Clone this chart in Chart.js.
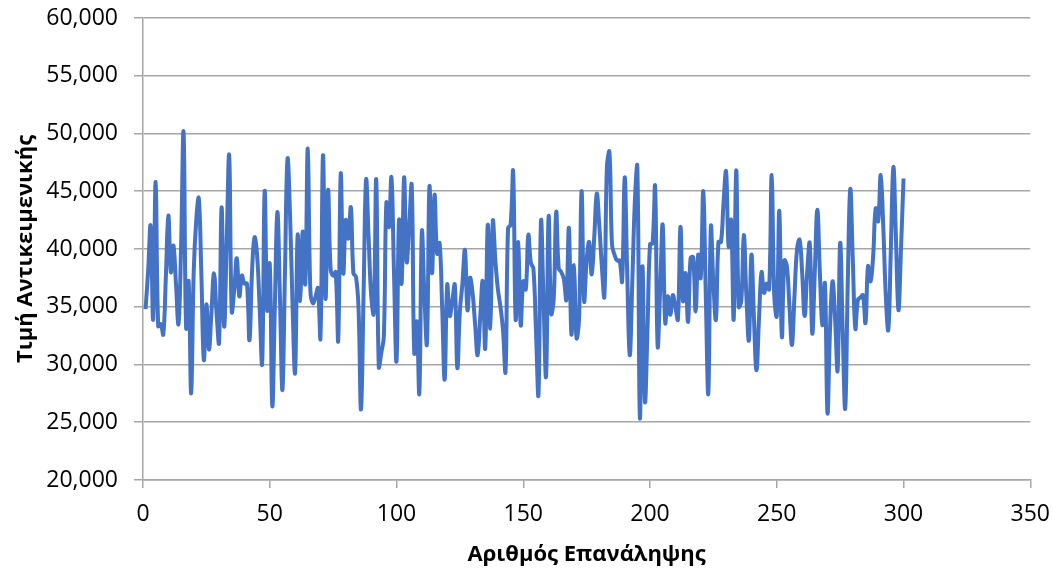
<!DOCTYPE html>
<html>
<head>
<meta charset="utf-8">
<script src="https://cdn.jsdelivr.net/npm/chart.js@4/dist/chart.umd.min.js"></script>
<style>
  html, body { margin: 0; padding: 0; background: #ffffff; }
  #wrap { width: 1053px; height: 572px; }
</style>
</head>
<body>
<div id="wrap"><canvas id="c" width="1053" height="572"></canvas></div>
<script>
// Objective value recorded at each iteration (iterations 1..300)
const objectiveValues = [
  34800, 38000, 42000, 33900, 45800, 33300, 33500, 32600, 37500, 42900,
  38000, 40300, 37000, 33500, 40000, 50100, 33200, 37200, 27500, 38000,
  42500, 44400, 38000, 30400, 35200, 31300, 34500, 37900, 34500, 31900,
  43600, 33300, 40500, 48100, 34600, 36500, 39200, 35900, 37700, 37000,
  37000, 32100, 38000, 41000, 39500, 35000, 30100, 45000, 34700, 38700,
  26400, 35000, 43200, 36000, 27800, 38000, 47800, 43000, 35000, 29300,
  41200, 35500, 41500, 37000, 48700, 36500, 35300, 35800, 36600, 32300,
  48100, 35700, 45100, 38300, 37700, 38000, 32100, 46500, 37900, 42500,
  40900, 43600, 37900, 37600, 35000, 26100, 36000, 46000, 41000, 36000,
  34400, 46000, 29800, 31000, 32400, 44000, 41900, 46200, 38000, 30300,
  42500, 37000, 46200, 38900, 42000, 45500, 31000, 33700, 27500, 41500,
  36000, 31800, 45400, 37900, 44700, 39600, 40500, 35000, 28700, 36900,
  34200, 35500, 36900, 29700, 34600, 37000, 39900, 34700, 37500, 36200,
  33500, 30800, 34000, 37200, 31400, 42100, 33100, 42400, 39000, 36500,
  35000, 33000, 29400, 41800, 42100, 46700, 33900, 40600, 33400, 37200,
  36500, 41200, 38800, 38300, 33000, 27400, 42400, 35500, 29000, 42800,
  34400, 35600, 43200, 38300, 38000, 37400, 35600, 41800, 32600, 38600,
  32300, 33900, 45000, 35500, 39000, 40600, 37800, 41000, 44800, 42000,
  38500, 35900, 47100, 48400, 40400, 39500, 39000, 39000, 37200, 46200,
  38000, 30800, 37000, 44000, 47100, 25400, 38500, 26800, 33000, 40400,
  40500, 45400, 31600, 36500, 42100, 33600, 35900, 34300, 36000, 35000,
  33900, 41900, 35500, 37900, 33700, 39200, 39300, 34600, 39500, 37500,
  45000, 36000, 27500, 41900, 37000, 33900, 40600, 40600, 44000, 46700,
  40200, 42500, 33900, 46800, 35000, 35500, 41200, 36000, 32100, 39500,
  34000, 29500, 34000, 38000, 36200, 37000, 36500, 46400, 36000, 34200,
  43300, 32400, 39000, 38500, 35000, 31700, 36000, 40000, 40800, 38000,
  34200, 38000, 40500, 32700, 38000, 43400, 38000, 33400, 37000, 25800,
  33000, 37200, 34000, 29500, 40500, 33000, 26200, 37000, 45200, 39000,
  33100, 35600, 35800, 36000, 33600, 38500, 37200, 39300, 43500, 42400,
  46400, 42000, 36000, 33000, 40000, 47100, 41000, 34700, 40000, 46100
];

// Iteration numbers that go with each value
const iterations = objectiveValues.map((_, i) => i + 1);

// Axis ranges and tick steps
const xRange = [0, 350];
const xStep = 50;
const yRange = [20000, 60000];
const yStep = 5000;

const xTitle = 'Αριθμός Επανάληψης';
const yTitle = 'Τιμή Αντικειμενικής';

const points = iterations.map((x, i) => ({ x: x, y: objectiveValues[i] }));

const axisGray = '#a6a6a6';
// Tick fonts: the line heights only steer how Chart.js reserves room around the labels
const xTickFont = { family: 'Open Sans', size: 23, lineHeight: 2.0 };
const yTickFont = { family: 'Open Sans', size: 23, lineHeight: 0.17 };
const titleFont = { family: 'Open Sans', size: 22, weight: 'bold' };

new Chart(document.getElementById('c'), {
  type: 'line',
  data: {
    datasets: [{
      data: points,
      borderColor: '#4472c4',
      borderWidth: 4,
      pointRadius: 0,
      pointHoverRadius: 0,
      tension: 0.4,
      fill: false
    }]
  },
  options: {
    responsive: false,
    animation: false,
    events: [],
    layout: { padding: { top: 0, right: 0, left: 0, bottom: 0 } },
    plugins: { legend: { display: false }, tooltip: { enabled: false } },
    scales: {
      x: {
        type: 'linear',
        min: xRange[0],
        max: xRange[1],
        ticks: {
          stepSize: xStep,
          color: '#000000',
          font: xTickFont,
          padding: 3,
          maxRotation: 0
        },
        grid: {
          drawOnChartArea: false,
          drawTicks: true,
          tickLength: 8,
          color: axisGray,
          lineWidth: 1.5
        },
        border: { color: axisGray, width: 1.5 },
        title: {
          display: true,
          text: xTitle,
          color: '#000000',
          font: titleFont,
          padding: { top: 6, bottom: 4 }
        },
        afterFit: (scale) => { scale.height = 92; }
      },
      y: {
        min: yRange[0],
        max: yRange[1],
        ticks: {
          stepSize: yStep,
          color: '#000000',
          font: yTickFont,
          padding: 16,
          callback: (v) => v.toLocaleString('en-US')
        },
        grid: {
          drawTicks: true,
          tickLength: 9,
          color: axisGray,
          lineWidth: 1.5
        },
        border: { color: axisGray, width: 1.5 },
        title: {
          display: true,
          text: yTitle,
          color: '#000000',
          font: titleFont,
          padding: { top: 13, bottom: 6 }
        },
        afterFit: (scale) => { scale.width = 143; }
      }
    }
  }
});
</script>
</body>
</html>
